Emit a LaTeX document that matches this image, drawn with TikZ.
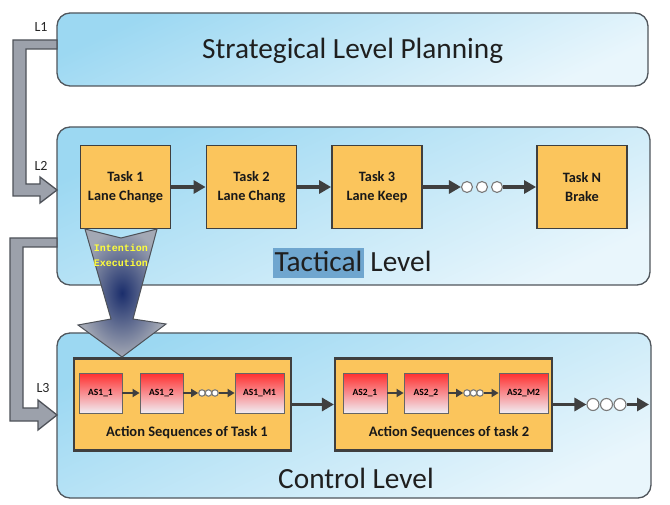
\documentclass[tikz,border=0pt]{standalone}
\usepackage{fontspec}
\setmainfont{Carlito}
\newfontfamily\monob{Liberation Mono}
\usetikzlibrary{arrows.meta}
\definecolor{boxtop}{HTML}{9CD8F2}
\definecolor{boxbot}{HTML}{E9F6FC}
\definecolor{boxline}{HTML}{50565C}
\definecolor{taskfill}{HTML}{FBC55C}
\definecolor{darkline}{HTML}{3F3F3F}
\definecolor{hl}{HTML}{6FA6CF}
\definecolor{redtop}{HTML}{FF2E2E}
\definecolor{redmid}{HTML}{F5A9AC}
\definecolor{redbot}{HTML}{F1EDF3}
\definecolor{bandgray}{HTML}{9CA1AB}
\definecolor{bandline}{HTML}{4E5259}
\definecolor{navy}{HTML}{1B2E6C}
\definecolor{arrgray}{HTML}{A3A8B4}
\definecolor{yel}{HTML}{FFFF3A}
\tikzset{
  levelbox/.style={draw=boxline, line width=1.3pt, rounded corners=13pt,
    top color=boxtop, bottom color=boxbot, shading angle=25,
    minimum width=#1, inner sep=0pt},
  taskbox/.style={draw=darkline, line width=1.8pt, fill=taskfill,
    minimum width=90pt, minimum height=83pt, inner sep=0pt, align=center,
    font=\fontsize{14.3}{19}\selectfont\bfseries, text=black!90},
  seqbox/.style={draw=darkline, line width=2.2pt, fill=taskfill,
    minimum width=217pt, minimum height=92pt, inner sep=0pt},
  seqtext/.style={font=\fontsize{14.5}{17}\selectfont\bfseries, text=black!90, anchor=base, inner sep=0pt},
  asbox/.style={draw=darkline!80, line width=0.8pt, top color=redtop,
    middle color=redmid, bottom color=redbot, minimum height=40pt,
    minimum width=#1, inner sep=0pt, font=\fontsize{9.5}{11}\selectfont\bfseries},
  bigarr/.style={draw=darkline, line width=3.2pt, -{Triangle[length=12pt,width=13pt]}},
  smallarr/.style={draw=darkline, line width=2pt, -{Triangle[length=7pt,width=8pt]}},
  dotc/.style={circle, draw=darkline!70, line width=1.1pt, fill=white,
    minimum size=#1, inner sep=0pt},
  band/.style={fill=bandgray, draw=bandline, line width=1.3pt, line join=miter},
  lvltext/.style={font=\fontsize{29.3}{34}\selectfont, text=black!88, anchor=base west, inner sep=0pt},
  lbl/.style={font=\fontsize{14}{16}\selectfont, text=black!85}
}
\begin{document}
\begin{tikzpicture}[x=1pt,y=-1pt]
\useasboundingbox (0,0) rectangle (670,505);
\fill[white] (0,0) rectangle (670,505);

% level boxes
\node[levelbox=591pt, minimum height=73pt] (strat) at (352.5,49.5) {};
\node[levelbox=593pt, minimum height=158pt] (tact) at (353.5,206) {};
\node[levelbox=594pt, minimum height=165pt] (ctrl) at (354,415.5) {};

\node[lvltext] (strattxt) at (202,59) {Strategical Level Planning};
\node[lvltext] (tacttxt) at (273,272) {\setlength\fboxsep{0pt}\colorbox{hl}{\hspace{1.5pt}\rule[-6pt]{0pt}{30pt}Tactical\hspace{1.5pt}} Level};
\node[lvltext] (ctrltxt) at (278,488.5) {Control Level};

% task boxes
\node[taskbox] (t1) at (125.5,187) {Task 1\\Lane Change};
\node[taskbox] (t2) at (251.5,187) {Task 2\\Lane Chang};
\node[taskbox] (t3) at (377,187) {Task 3\\Lane Keep};
\node[taskbox] (tn) at (582,187) {Task N\\Brake};

\node[dotc=11pt] (d1) at (467,187) {};
\node[dotc=11pt] (d2) at (482,187) {};
\node[dotc=11pt] (d3) at (497,187) {};

\draw[bigarr] (t1) -- (t2);
\draw[bigarr] (t2) -- (t3);
\draw[bigarr] (t3) -- (d1);
\draw[bigarr] (d3) -- (tn);

% action sequences
\node[seqbox] (s1) at (182.5,404.5) {};
\node[seqbox] (s2) at (443.5,404.5) {};
\node[seqtext] (s1txt) at (187,436) {Action Sequences of Task 1};
\node[seqtext] (s2txt) at (449,436) {Action Sequences of task 2};

\node[asbox=43pt] (a11) at (100.5,393) {AS1\_1};
\node[asbox=43pt] (a12) at (161.5,393) {AS1\_2};
\node[asbox=49pt] (a1m) at (259.5,393) {AS1\_M1};
\node[asbox=44pt] (a21) at (365,393) {AS2\_1};
\node[asbox=44pt] (a22) at (426,393) {AS2\_2};
\node[asbox=49pt] (a2m) at (523.5,393) {AS2\_M2};

\node[dotc=6.5pt] (e1) at (202,393) {};
\node[dotc=6.5pt] (e2) at (208.5,393) {};
\node[dotc=6.5pt] (e3) at (215,393) {};
\node[dotc=6.5pt] (f1) at (467,393) {};
\node[dotc=6.5pt] (f2) at (473.5,393) {};
\node[dotc=6.5pt] (f3) at (480,393) {};

\draw[smallarr] (a11) -- (a12);
\draw[smallarr] (a12) -- (e1);
\draw[smallarr] (e3) -- (a1m);
\draw[smallarr] (a21) -- (a22);
\draw[smallarr] (a22) -- (f1);
\draw[smallarr] (f3) -- (a2m);

\node[dotc=12pt] (g1) at (593,404.5) {};
\node[dotc=12pt] (g2) at (606.5,404.5) {};
\node[dotc=12pt] (g3) at (620,404.5) {};
\coordinate (gend) at (649,404.5);
\draw[bigarr] (s1) -- (s2);
\draw[bigarr] (s2) -- (g1);
\draw[bigarr] (g3) -- (gend);

% level connectors (block arrows)
\draw[band] (57,40) -- (13,40) -- (13,196) -- (40,196) -- (40,203) -- (57,190)
  -- (40,177) -- (40,184) -- (26,184) -- (26,49) -- (57,49) -- cycle;
\draw[band] (57,238) -- (10,238) -- (10,421) -- (38,421) -- (38,430) -- (57,415)
  -- (38,400) -- (38,408) -- (23,408) -- (23,247) -- (57,247) -- cycle;
\node[lbl] (l1) at (41,27) {L1};
\node[lbl] (l2) at (41,166) {L2};
\node[lbl] (l3) at (43,388) {L3};

% intention execution arrow
\draw[draw=bandline, line width=1pt, line join=miter, inner color=navy, outer color=arrgray]
  (85,229) -- (121,238) -- (157,229) -- (133,319) -- (166,324) -- (122,357)
  -- (78,325) -- (111,319) -- cycle;
\node[font=\monob\fontsize{10}{15}\selectfont\bfseries, text=yel, align=center] (ie) at (121,255.5) {Intention\\Execution};
\end{tikzpicture}
\end{document}
